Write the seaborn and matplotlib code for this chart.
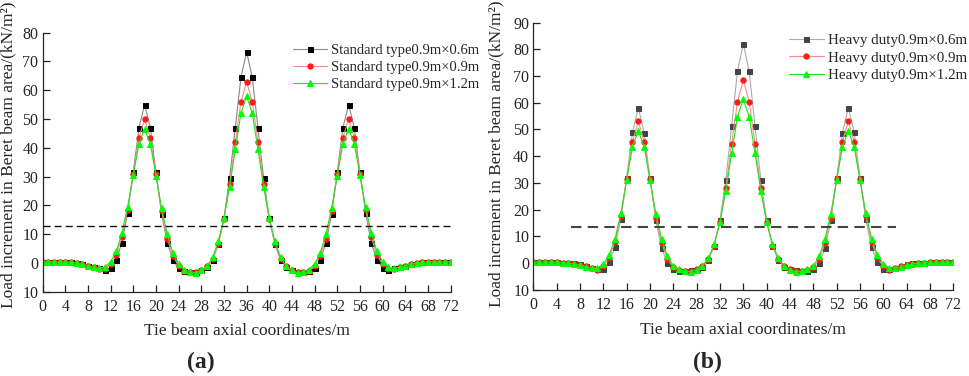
import numpy as np
import pandas as pd
import matplotlib
matplotlib.use("Agg")
import matplotlib.pyplot as plt
import seaborn as sns
from matplotlib.ticker import FuncFormatter

# axial coordinate (m)
x = list(range(0, 73))

# (a) standard type
std_06 = [0.3, 0.3, 0.3, 0.3, 0.3, 0.2, 0.1, -0.2, -0.9, -1.4,
          -1.9, -2.3, -1.7, 1.2, 7.0, 17.5, 31.5, 47.0, 55.0, 47.0,
          31.5, 17.0, 7.0, 1.0, -1.8, -2.8, -3.0, -3.0, -2.5, -1.3,
          1.0, 6.5, 15.5, 29.5, 47.0, 64.5, 73.3, 64.5, 47.0, 29.5,
          15.5, 6.5, 1.0, -1.3, -2.5, -3.0, -3.0, -2.8, -1.8, 1.0,
          7.0, 17.0, 31.5, 47.0, 55.0, 47.0, 31.5, 17.5, 7.0, 1.2,
          -1.7, -2.3, -1.9, -1.4, -0.9, -0.2, 0.1, 0.2, 0.3, 0.3,
          0.3, 0.3, 0.3]
std_09 = [0.3, 0.3, 0.3, 0.3, 0.3, 0.2, 0.0, -0.3, -0.9, -1.4,
          -2.0, -2.0, -0.5, 2.8, 9.0, 18.5, 31.0, 43.5, 50.0, 43.5,
          31.0, 18.0, 8.5, 2.5, -1.0, -2.7, -3.2, -3.2, -2.5, -1.2,
          1.5, 6.5, 15.3, 27.5, 42.0, 56.0, 63.0, 56.0, 42.0, 27.5,
          15.3, 6.5, 1.5, -1.2, -2.5, -3.2, -3.2, -2.7, -1.0, 2.5,
          8.5, 18.0, 31.0, 43.5, 50.0, 43.5, 31.0, 18.5, 9.0, 2.8,
          -0.5, -2.0, -2.0, -1.4, -0.9, -0.3, 0.0, 0.2, 0.3, 0.3,
          0.3, 0.3, 0.3]
std_12 = [0.4, 0.4, 0.4, 0.4, 0.3, 0.2, 0.0, -0.4, -1.0, -1.5,
          -1.8, -1.5, 0.5, 4.0, 10.5, 19.5, 30.5, 41.5, 46.5, 41.5,
          30.2, 19.0, 10.0, 3.5, -0.3, -2.3, -3.0, -3.5, -2.5, -1.2,
          2.0, 7.5, 15.5, 26.5, 39.5, 52.0, 58.0, 52.0, 39.5, 26.5,
          15.5, 7.5, 2.0, -1.2, -2.5, -3.5, -3.0, -2.3, -0.3, 3.5,
          10.0, 19.0, 30.2, 41.5, 46.5, 41.5, 30.5, 19.5, 10.5, 4.0,
          0.5, -1.5, -1.8, -1.5, -1.0, -0.4, 0.0, 0.2, 0.4, 0.4,
          0.4, 0.4, 0.4]

# (b) heavy duty
hd_06 = [0.3, 0.3, 0.3, 0.3, 0.3, 0.2, 0.1, -0.1, -0.4, -1.0,
         -1.8, -2.2, -2.0, 0.3, 6.0, 16.5, 32.0, 49.0, 58.2, 48.8,
         31.7, 16.0, 5.5, 0.0, -2.3, -2.8, -3.0, -2.7, -2.3, -1.3,
         1.0, 6.5, 16.2, 31.2, 51.3, 71.8, 82.1, 71.8, 51.3, 31.2,
         16.2, 6.5, 1.0, -1.3, -2.3, -2.7, -3.0, -2.8, -2.3, 0.0,
         5.5, 16.0, 31.7, 48.8, 58.2, 49.0, 32.0, 16.5, 6.0, 0.3,
         -2.0, -2.2, -1.8, -1.0, -0.4, -0.1, 0.1, 0.2, 0.3, 0.3,
         0.3, 0.3, 0.3]
hd_09 = [0.3, 0.3, 0.3, 0.3, 0.3, 0.2, 0.0, -0.2, -0.6, -1.2,
         -1.9, -2.5, -1.0, 1.8, 8.0, 17.5, 31.5, 45.5, 53.0, 45.5,
         31.5, 17.0, 7.5, 1.5, -1.5, -2.7, -3.0, -3.0, -2.3, -1.2,
         1.5, 6.5, 15.5, 28.0, 44.6, 60.4, 68.5, 60.4, 44.6, 28.0,
         15.5, 6.5, 1.5, -1.2, -2.3, -3.0, -3.0, -2.7, -1.5, 1.5,
         7.5, 17.0, 31.5, 45.5, 53.0, 45.5, 31.5, 17.5, 8.0, 1.8,
         -1.0, -2.5, -1.9, -1.2, -0.6, -0.2, 0.0, 0.2, 0.3, 0.3,
         0.3, 0.3, 0.3]
hd_12 = [0.4, 0.4, 0.4, 0.4, 0.3, 0.2, 0.0, -0.3, -0.8, -1.4,
         -1.8, -1.8, -0.3, 3.0, 9.0, 18.6, 31.0, 43.6, 49.4, 43.6,
         31.0, 18.5, 9.0, 2.5, -1.0, -2.3, -3.0, -3.2, -2.5, -1.0,
         1.8, 7.0, 15.3, 27.1, 41.2, 54.8, 61.3, 54.8, 41.2, 27.1,
         15.3, 7.0, 1.8, -1.0, -2.5, -3.2, -3.0, -2.3, -1.0, 2.5,
         9.0, 18.5, 31.0, 43.6, 49.4, 43.6, 31.0, 18.6, 9.0, 3.0,
         -0.3, -1.8, -1.8, -1.4, -0.8, -0.3, 0.0, 0.2, 0.4, 0.4,
         0.4, 0.4, 0.4]

std_labels = ["Standard type0.9m×0.6m", "Standard type0.9m×0.9m", "Standard type0.9m×1.2m"]
hd_labels = ["Heavy duty0.9m×0.6m", "Heavy duty0.9m×0.9m", "Heavy duty0.9m×1.2m"]

# dashed reference lines: (level, x start, x end)
ref_a = (13.0, 0, 72)
ref_b = (13.5, 6.4, 62.2)

sns.set_style("ticks")
plt.rcParams['font.family'] = ['Liberation Serif', 'DejaVu Serif']
plt.rcParams['xtick.direction'] = 'in'
plt.rcParams['ytick.direction'] = 'in'

fig = plt.figure(figsize=(9.69, 3.76), dpi=100)
ax1 = fig.add_axes([0.044, 0.224, 0.421, 0.689])
ax2 = fig.add_axes([0.5504, 0.229, 0.4334, 0.711])


def draw(ax, series, labels, black, line_gray, ref, ymax, dash_col, dash_lw,
         leg_size, leg_pos, ylab_xy, xlab_y):
    styles = [(black, line_gray, "s", 3.6),
              ("#ff1a1a", "#ff8a8a", "o", 3.8),
              ("#00ff00", "#22e022", "^", 4.2)]
    for y, lab, (mc, lc, mk, ms) in zip(series, labels, styles):
        sns.lineplot(x=x, y=y, ax=ax, color=lc, linewidth=0.8, marker=mk,
                     markersize=ms, markerfacecolor=mc, markeredgecolor=mc,
                     label=lab)
    ax.plot([ref[1], ref[2]], [ref[0], ref[0]], linestyle=(0, (5, 3)),
            color=dash_col, linewidth=dash_lw)
    ax.set_xlim(0, 72)
    ax.set_ylim(-10, ymax)
    ax.set_xticks(range(0, 73, 4))
    ax.set_yticks(range(-10, ymax + 1, 10))
    ax.yaxis.set_major_formatter(FuncFormatter(lambda v, p: f"{abs(int(v))}"))
    ax.tick_params(labelsize=11.5, length=5, width=0.9, color="#222222")
    ax.tick_params(axis="x", pad=5)
    ax.tick_params(axis="y", pad=3)
    sns.despine(ax=ax)
    for s in ["left", "bottom"]:
        ax.spines[s].set_linewidth(0.9)
    ax.set_xlabel("Tie beam axial coordinates/m", fontsize=12.5)
    ax.set_ylabel("Load increment in Beret beam area/(kN/m²)", fontsize=12.5)
    ax.yaxis.set_label_coords(*ylab_xy)
    ax.xaxis.set_label_coords(0.5, xlab_y)
    ax.legend(loc="upper left", bbox_to_anchor=leg_pos, frameon=False,
              fontsize=leg_size, handlelength=2.3, handletextpad=0.3,
              labelspacing=0.25, borderaxespad=0)


draw(ax1, [std_06, std_09, std_12], std_labels, "#000000", "#888888", ref_a,
     80, "#111111", 1.0, 10.5, (0.60, 0.98), (-0.064, 0.53), -0.12)
draw(ax2, [hd_06, hd_09, hd_12], hd_labels, "#444444", "#aaaaaa", ref_b,
     90, "#444444", 1.5, 10.8, (0.595, 0.98), (-0.068, 0.51), -0.12)

fig.text(0.207, 0.035, "(a)", fontsize=17, fontweight="bold", ha="center", va="center")
fig.text(0.73, 0.035, "(b)", fontsize=17, fontweight="bold", ha="center", va="center")

fig.savefig("out.png", dpi=100)
